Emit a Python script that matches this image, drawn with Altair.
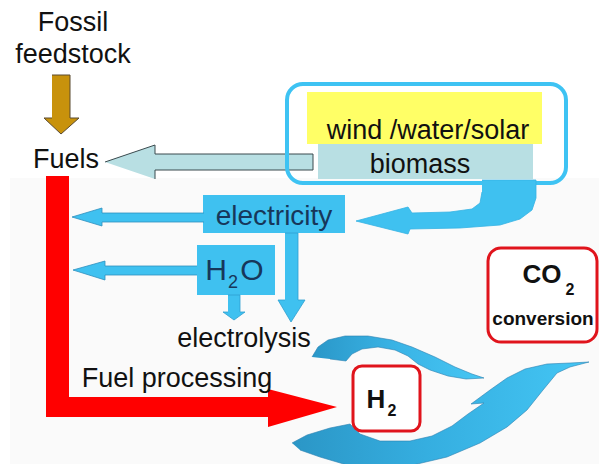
import altair as alt
import pandas as pd

# ---------------- diagram data (reference pixel coordinates, y grows downward) ----------------
fossil_arrow = [(52, 75), (70, 75), (70, 118), (79, 118), (61, 134), (44, 118), (52, 118)]
fuel_arrow = [(105, 162), (155, 145), (155, 154), (313, 154), (313, 170), (155, 170), (155, 179)]
renew_arrow = [(482, 180), (536, 180), (536, 198), (532, 210), (520, 219), (500, 225), (460, 228),
               (410, 229), (408, 234), (356, 221), (408, 207), (412, 213), (450, 212), (472, 209),
               (480, 203), (482, 192)]
elec_left_arrow = [(204, 213), (102, 213), (102, 208), (72, 217), (102, 226), (102, 222), (204, 222)]
h2o_left_arrow = [(197, 266), (105, 266), (105, 261), (73, 270), (105, 280), (105, 275), (197, 275)]
elec_down_arrow = [(285, 233), (298, 233), (298, 300), (305, 300), (291, 322), (278, 300), (285, 300)]
h2o_down_arrow = [(228, 295), (240, 295), (240, 312), (245, 312), (234, 320), (223, 312), (228, 312)]
red_arrow = [(46, 176), (69, 176), (69, 397), (268, 397), (268, 389), (337, 407), (268, 427),
             (268, 417), (46, 417)]
swirl_top = [(312, 357), (318, 347), (328, 340), (345, 336), (368, 336), (392, 340), (412, 347),
             (435, 357), (455, 367), (472, 374), (484, 378), (466, 379), (448, 376), (430, 370),
             (418, 364), (408, 356), (395, 350), (378, 347), (362, 349), (352, 354), (346, 361),
             (330, 359)]
swirl_bottom = [(292, 443), (307, 435), (330, 428), (350, 424), (360, 434), (380, 441), (410, 441),
                (432, 436), (452, 426), (468, 414), (484, 403), (471, 404), (490, 390), (507, 378),
                (525, 369), (547, 364), (570, 363), (589, 362), (570, 367), (557, 373), (543, 390),
                (527, 410), (507, 427), (480, 443), (447, 457), (413, 465), (380, 468), (347, 465),
                (320, 457), (300, 450)]

# boxes: x1, x2, y1, y2
bg_box = (10, 607, 178, 472)
solar_box = (307, 542, 92, 144)
biomass_box = (318, 533, 144, 179)
renew_frame = (287, 566, 84, 183)
elec_box = (203, 345, 195, 233)
h2o_box = (197, 275, 245, 295)
h2_box = (353, 420, 366, 431)
co2_box = (488, 597, 248, 342)

# texts
plain_labels = ["Fossil", "feedstock", "Fuels", "wind /water/solar", "biomass",
                "electrolysis", "Fuel processing"]
plain_x = [73, 73, 66, 428, 420, 244, 177]
plain_y = [31, 63, 168, 139, 173, 347, 387]

elec_label = ["electricity"]
elec_x = [274]
elec_y = [225]

h2o_labels = ["H", "O"]
h2o_x = [216, 252]
h2o_y = [280, 280]

# ---------------- scales (page area inside the 8px body margin) ----------------
X0, X1 = 8, 599
Y0, Y1 = 8, 464
W, H = X1 - X0, Y1 - Y0
xs = alt.Scale(domain=[X0, X1], nice=False, zero=False)
ys = alt.Scale(domain=[Y0, Y1], nice=False, zero=False, reverse=True)
XE = lambda f: alt.X(f, scale=xs, axis=None)
YE = lambda f: alt.Y(f, scale=ys, axis=None)


def poly(points, **mark):
    df = pd.DataFrame({"i": list(range(len(points))),
                       "x": [p[0] for p in points],
                       "y": [p[1] for p in points]})
    return alt.Chart(df).mark_line(filled=True, interpolate="linear", **mark).encode(
        x=XE("x:Q"), y=YE("y:Q"), order=alt.Order("i:Q"))


def box(b, **mark):
    df = pd.DataFrame({"x": [b[0]], "x2": [b[1]], "y": [b[2]], "y2": [b[3]]})
    return alt.Chart(df).mark_rect(**mark).encode(
        x=XE("x:Q"), x2="x2:Q", y=YE("y:Q"), y2="y2:Q")


def texts(labels, tx, ty, **mark):
    df = pd.DataFrame({"t": labels, "x": tx, "y": ty})
    return alt.Chart(df).mark_text(baseline="alphabetic", align="center", **mark).encode(
        x=XE("x:Q"), y=YE("y:Q"), text="t:N")


BLUE = "#3fc1f0"
FONT = "Liberation Sans"

grad_top = alt.Gradient(gradient="linear", x1=0, x2=1, y1=0, y2=0,
                        stops=[alt.GradientStop(color="#2a97c8", offset=0),
                               alt.GradientStop(color="#3ab4e6", offset=0.5),
                               alt.GradientStop(color="#46c6f3", offset=1)])
grad_bottom = alt.Gradient(gradient="linear", x1=0, x2=1, y1=0, y2=0,
                           stops=[alt.GradientStop(color="#2b96c6", offset=0),
                                  alt.GradientStop(color="#35aee0", offset=0.45),
                                  alt.GradientStop(color="#44c6f4", offset=1)])

layers = [
    box(bg_box, fill="#fafafa"),
    poly(fossil_arrow, fill="#c8920c", stroke="#5a4a30", strokeWidth=1),
    poly(fuel_arrow, fill="#b8dfe3", stroke="#3a4a4e", strokeWidth=1),
    box(solar_box, fill="#ffff66"),
    box(biomass_box, fill="#b8dfe3"),
    box(renew_frame, fillOpacity=0, stroke="#3ec3f3", strokeWidth=4, cornerRadius=16),
    poly(renew_arrow, fill=BLUE, stroke="#35b3e3", strokeWidth=0.8),
    box(elec_box, fill=BLUE),
    box(h2o_box, fill=BLUE),
    poly(elec_left_arrow, fill=BLUE, stroke="#2f8fbe", strokeWidth=0.8),
    poly(h2o_left_arrow, fill=BLUE, stroke="#2f8fbe", strokeWidth=0.8),
    poly(elec_down_arrow, fill=BLUE, stroke="#2f9fd0", strokeWidth=0.8),
    poly(h2o_down_arrow, fill=BLUE, stroke="#2f9fd0", strokeWidth=0.8),
    poly(red_arrow, fill="#ff0000"),
    poly(swirl_top, fill=grad_top, stroke="#2a80b0", strokeWidth=0.6),
    poly(swirl_bottom, fill=grad_bottom, stroke="#2a80b0", strokeWidth=0.6),
    box(h2_box, fill="white", stroke="#e0141c", strokeWidth=3, cornerRadius=9),
    box(co2_box, fill="white", stroke="#e0141c", strokeWidth=3, cornerRadius=13),
    texts(plain_labels, plain_x, plain_y, font=FONT, fontSize=27, color="#111111"),
    texts(elec_label, elec_x, elec_y, font=FONT, fontSize=28, color="#17375a"),
    texts(h2o_labels, h2o_x, h2o_y, font=FONT, fontSize=30, color="#17375a"),
    texts(["2"], [233], [288], font=FONT, fontSize=18, color="#17375a"),
    texts(["H", "CO"], [376, 542], [408, 283], font=FONT, fontSize=26, fontWeight="bold", color="#111111"),
    texts(["2", "2"], [392, 570], [416, 295], font=FONT, fontSize=16, fontWeight="bold", color="#111111"),
    texts(["conversion"], [543], [325], font=FONT, fontSize=19, fontWeight="bold", color="#111111"),
]

chart = alt.layer(*layers).properties(
    width=W, height=H, padding=0,
    autosize=alt.AutoSizeParams(type="none"),
).configure_view(stroke=None)

chart.save("out.html", embed_options={"renderer": "svg", "actions": False})
